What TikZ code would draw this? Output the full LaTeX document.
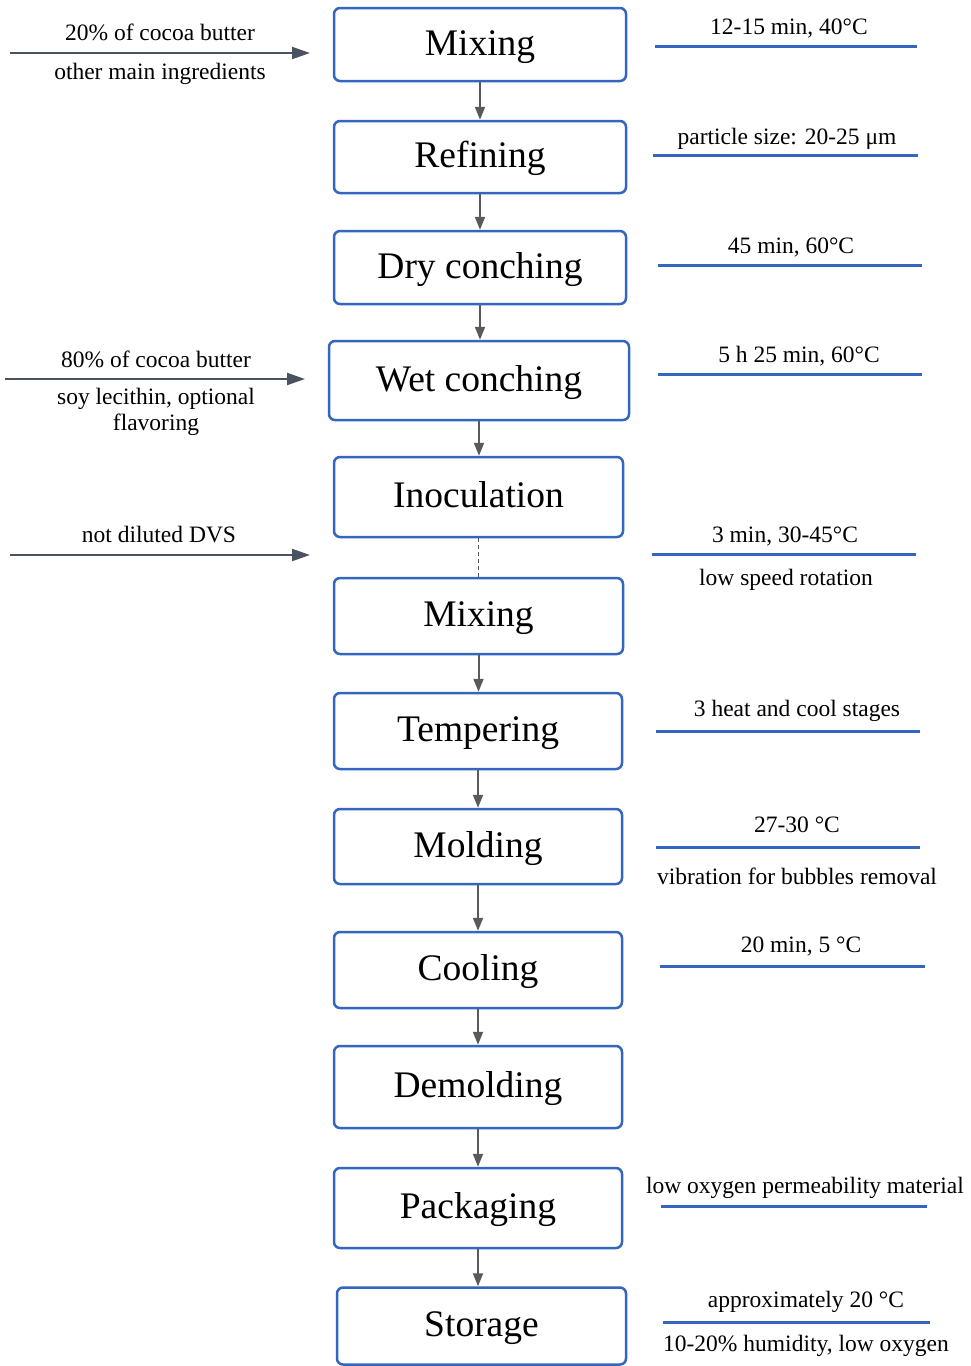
\documentclass[tikz,border=0pt]{standalone}
\usepackage{fontspec}
\setmainfont{Liberation Serif}
\usetikzlibrary{arrows.meta}
\definecolor{bblue}{RGB}{52,102,192}
\definecolor{agrey}{RGB}{90,90,90}
\definecolor{slate}{RGB}{72,82,96}
\begin{document}
\begin{tikzpicture}[x=1pt,y=-1pt,
  box/.style={draw=bblue, line width=2.5pt, rounded corners=6pt, fill=white,
    font=\fontsize{37.5}{44}\selectfont, inner sep=0pt, text height=21pt, text depth=0pt},
  lbl/.style={font=\fontsize{23.5}{28}\selectfont, inner sep=0pt, anchor=base},
  flow/.style={draw=agrey, line width=2pt, -{Triangle[width=10pt,length=13pt]}},
  dflow/.style={draw=agrey, line width=1.6pt, dash pattern=on 4pt off 3pt},
  inarrow/.style={draw=slate, line width=2pt, -{Triangle[width=12pt,length=18pt]}},
  note/.style={draw=bblue, line width=3pt}]
\useasboundingbox (0,0) rectangle (971,1366);
\fill[white] (0,0) rectangle (971,1366);

% boxes
\node[box, minimum width=292pt, minimum height=73pt] (b1) at (480,44.5) {Mixing};
\node[box, minimum width=292pt, minimum height=72pt] (b2) at (480,157) {Refining};
\node[box, minimum width=292pt, minimum height=73pt] (b3) at (480,267.5) {Dry conching};
\node[box, minimum width=300pt, minimum height=79pt] (b4) at (479,380.5) {Wet conching};
\node[box, minimum width=289pt, minimum height=80pt] (b5) at (478.5,497) {Inoculation};
\node[box, minimum width=289pt, minimum height=76pt] (b6) at (478.5,616) {Mixing};
\node[box, minimum width=288pt, minimum height=76pt] (b7) at (478,731) {Tempering};
\node[box, minimum width=288pt, minimum height=75pt] (b8) at (478,846.5) {Molding};
\node[box, minimum width=288pt, minimum height=76pt] (b9) at (478,970) {Cooling};
\node[box, minimum width=288pt, minimum height=82pt] (b10) at (478,1087) {Demolding};
\node[box, minimum width=288pt, minimum height=80pt] (b11) at (478,1208) {Packaging};
\node[box, minimum width=289pt, minimum height=77pt] (b12) at (481.5,1326) {Storage};

% vertical flow
\draw[flow] (b1.south) -- (b1.south |- b2.north);
\draw[flow] (b2.south) -- (b2.south |- b3.north);
\draw[flow] (b3.south) -- (b3.south |- b4.north);
\draw[flow] (b4.south) -- (b4.south |- b5.north);
\draw[dflow] (b5.south) -- (b5.south |- b6.north);
\draw[flow] (b6.south) -- (b6.south |- b7.north);
\draw[flow] (b7.south) -- (b7.south |- b8.north);
\draw[flow] (b8.south) -- (b8.south |- b9.north);
\draw[flow] (b9.south) -- (b9.south |- b10.north);
\draw[flow] (b10.south) -- (b10.south |- b11.north);
\draw[flow] (b11.south) -- (b11.south |- b12.north);

% left inputs
\coordinate (i1s) at (10,53);  \coordinate (i1e) at (310,53);
\coordinate (i2s) at (5,379);  \coordinate (i2e) at (305,379);
\coordinate (i3s) at (10,555); \coordinate (i3e) at (310,555);
\draw[inarrow] (i1s) -- (i1e);
\draw[inarrow] (i2s) -- (i2e);
\draw[inarrow] (i3s) -- (i3e);
\node[lbl] (t1a) at (160,40) {20\% of cocoa butter};
\node[lbl] (t1b) at (160,79) {other main ingredients};
\node[lbl] (t2a) at (156,367) {80\% of cocoa butter};
\node[lbl] (t2b) at (156,404) {soy lecithin, optional};
\node[lbl] (t2c) at (156,430) {flavoring};
\node[lbl] (t3a) at (159,542) {not diluted DVS};

% right notes
\draw[note] (655,46) -- (917,46);
\node[lbl] (r1) at (789,34) {12-15 min, 40°C};
\draw[note] (653,155) -- (918,155);
\node[lbl] (r2) at (787,144) {particle size: 20-25 μm};
\draw[note] (658,265) -- (922,265);
\node[lbl] (r3) at (791,253) {45 min, 60°C};
\draw[note] (658,374) -- (922,374);
\node[lbl] (r4) at (799,362) {5 h 25 min, 60°C};
\draw[note] (652,554) -- (916,554);
\node[lbl] (r5) at (785,542) {3 min, 30-45°C};
\node[lbl] (r5b) at (786,585) {low speed rotation};
\draw[note] (656,731) -- (920,731);
\node[lbl] (r6) at (797,716) {3 heat and cool stages};
\draw[note] (656,847) -- (920,847);
\node[lbl] (r7) at (797,832) {27-30 °C};
\node[lbl] (r7b) at (797,884) {vibration for bubbles removal};
\draw[note] (660,966) -- (925,966);
\node[lbl] (r8) at (801,952) {20 min, 5 °C};
\draw[note] (661,1206) -- (927,1206);
\node[lbl] (r9) at (805,1193) {low oxygen permeability material};
\draw[note] (663,1322) -- (930,1322);
\node[lbl] (r10) at (806,1307) {approximately 20 °C};
\node[lbl] (r10b) at (806,1351) {10-20\% humidity, low oxygen};
\end{tikzpicture}
\end{document}
